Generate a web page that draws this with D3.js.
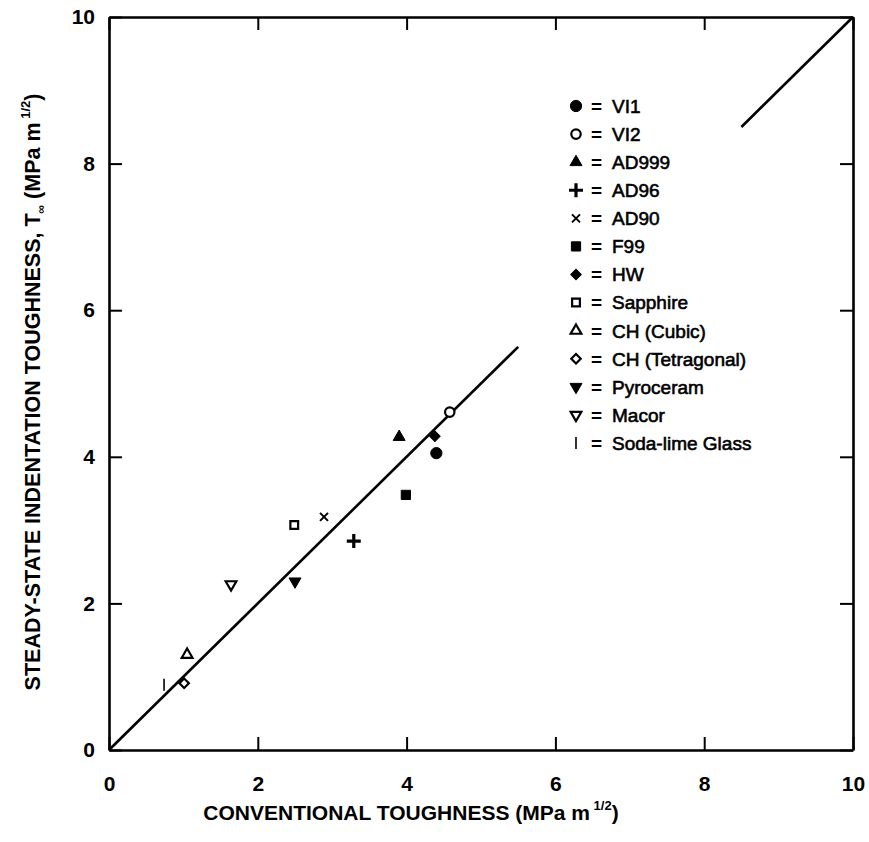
<!DOCTYPE html>
<html>
<head>
<meta charset="utf-8">
<script src="https://cdn.jsdelivr.net/npm/d3@7"></script>
<style>
  body { margin: 0; background: #fff; }
  svg text { fill: #000; }
</style>
</head>
<body>
<div id="chart"></div>
<script>
// chart size
var width = 869;
var height = 842;

// data (x = conventional, y = steady-state)
var materials = ["VI1", "VI2", "AD999", "AD96", "AD90", "F99", "HW", "Sapphire",
  "CH (Cubic)", "CH (Tetragonal)", "Pyroceram", "Macor", "Soda-lime Glass"];
var symbols = ["circleFill", "circleOpen", "triUpFill", "plus", "cross", "squareFill", "diamondFill",
  "squareOpen", "triUpOpen", "diamondOpen", "triDownFill", "triDownOpen", "bar"];
var conventional = [4.40, 4.58, 3.90, 3.29, 2.89, 3.99, 4.38, 2.49, 1.05, 1.01, 2.50, 1.64, 0.74];
var steadyState  = [4.05, 4.61, 4.27, 2.85, 3.18, 3.48, 4.28, 3.07, 1.30, 0.91, 2.30, 2.26, 0.89];

var tickValues = [0, 2, 4, 6, 8, 10];
// 1:1 line, drawn in two pieces as in the original figure
var lineSegments = [[[0, 0], [5.5, 5.5]], [[8.5, 8.5], [10, 10]]];

var svg = d3.select("#chart").append("svg")
  .attr("width", width)
  .attr("height", height);

var x = d3.scaleLinear().domain([0, 10]).range([109, 853]);
var y = d3.scaleLinear().domain([0, 10]).range([750, 17]);

var tickFont = "'Liberation Sans', Arial, sans-serif";

//axes, ticks all pointing inward
var axisB = svg.append("g").attr("transform", "translate(0," + y(0) + ")")
  .call(d3.axisBottom(x).tickValues(tickValues).tickSize(-13).tickSizeOuter(0).tickPadding(26).tickFormat(d3.format("d")));
var axisL = svg.append("g").attr("transform", "translate(" + x(0) + ",0)")
  .call(d3.axisLeft(y).tickValues(tickValues).tickSize(-13).tickSizeOuter(0).tickPadding(14).tickFormat(d3.format("d")));
var axisT = svg.append("g").attr("transform", "translate(0," + y(10) + ")")
  .call(d3.axisTop(x).tickValues(tickValues).tickSize(-13).tickSizeOuter(0).tickFormat(""));
var axisR = svg.append("g").attr("transform", "translate(" + x(10) + ",0)")
  .call(d3.axisRight(y).tickValues(tickValues).tickSize(-13).tickSizeOuter(0).tickFormat(""));

[axisB, axisL, axisT, axisR].forEach(function(g) {
  g.select(".domain").attr("stroke", "#000").attr("stroke-width", 2.6);
  g.selectAll(".tick line").attr("stroke", "#000").attr("stroke-width", 2);
  g.selectAll(".tick text")
    .style("font-family", tickFont)
    .style("font-size", "21px")
    .style("font-weight", "bold");
});

// 1:1 line
var line = d3.line().x(d => x(d[0])).y(d => y(d[1]));
svg.selectAll(".fit").data(lineSegments).enter().append("path")
  .attr("class", "fit")
  .attr("d", line)
  .attr("fill", "none")
  .attr("stroke", "#000")
  .attr("stroke-width", 2.6);

// marker drawing helper
function drawMarker(g, kind) {
  var filled = /Fill/.test(kind);
  var fill = filled ? "#000" : "#fff";
  var sw = filled ? 1 : 2.2;
  if (kind == "circleFill" || kind == "circleOpen") {
    g.append("path").attr("d", d3.symbol(d3.symbolCircle, filled ? 100 : 70)())
      .attr("fill", fill).attr("stroke", "#000").attr("stroke-width", sw);
  } else if (kind == "squareFill" || kind == "squareOpen") {
    g.append("path").attr("d", d3.symbol(d3.symbolSquare, filled ? 85 : 60)())
      .attr("fill", fill).attr("stroke", "#000").attr("stroke-width", sw);
  } else if (kind == "triUpFill" || kind == "triUpOpen") {
    g.append("path").attr("d", d3.symbol(d3.symbolTriangle, filled ? 62 : 50)())
      .attr("fill", fill).attr("stroke", "#000").attr("stroke-width", sw);
  } else if (kind == "triDownFill" || kind == "triDownOpen") {
    g.append("path").attr("d", d3.symbol(d3.symbolTriangle, filled ? 62 : 50)())
      .attr("transform", "rotate(180)")
      .attr("fill", fill).attr("stroke", "#000").attr("stroke-width", sw);
  } else if (kind == "diamondFill" || kind == "diamondOpen") {
    g.append("path").attr("d", d3.symbol(d3.symbolSquare, filled ? 55 : 45)())
      .attr("transform", "rotate(45)")
      .attr("fill", fill).attr("stroke", "#000").attr("stroke-width", sw);
  } else if (kind == "plus") {
    g.append("path").attr("d", "M-7,0H7M0,-7V7")
      .attr("stroke", "#000").attr("stroke-width", 3.2);
  } else if (kind == "cross") {
    g.append("path").attr("d", "M-4,-4L4,4M-4,4L4,-4")
      .attr("stroke", "#000").attr("stroke-width", 2);
  } else if (kind == "bar") {
    g.append("path").attr("d", "M0,-6V6")
      .attr("stroke", "#000").attr("stroke-width", 1.6);
  }
}

// data points
var points = materials.map(function(m, i) {
  return {name: m, symbol: symbols[i], x: conventional[i], y: steadyState[i]};
});

svg.selectAll(".pt").data(points).enter().append("g")
  .attr("class", "pt")
  .attr("transform", d => "translate(" + x(d.x) + "," + y(d.y) + ")")
  .each(function(d) { drawMarker(d3.select(this), d.symbol); });

// legend
var legendRow = d3.scalePoint().domain(materials).range([106, 443]);
var legend = svg.selectAll(".legend").data(points).enter().append("g")
  .attr("class", "legend")
  .attr("transform", d => "translate(576," + legendRow(d.name) + ")");
legend.each(function(d) { drawMarker(d3.select(this), d.symbol); });
var legendFont = {"font-family": "'Liberation Sans', Arial, sans-serif", "font-size": "19px"};
legend.append("text")
  .attr("x", 15)
  .attr("dy", "0.36em")
  .style("font-family", legendFont["font-family"])
  .style("font-size", legendFont["font-size"])
  .style("font-weight", "bold")
  .text("=");
legend.append("text")
  .attr("x", 36)
  .attr("dy", "0.36em")
  .style("font-family", legendFont["font-family"])
  .style("font-size", legendFont["font-size"])
  .style("stroke", "#000")
  .style("stroke-width", 0.6)
  .text(d => d.name);

// axis titles
var xTitle = svg.append("text")
  .attr("x", 411)
  .attr("y", 820)
  .attr("text-anchor", "middle")
  .style("font-family", "'Liberation Sans Narrow', 'Liberation Sans', sans-serif")
  .style("font-size", "21px")
  .style("font-weight", "bold");
xTitle.append("tspan").text("CONVENTIONAL TOUGHNESS (MPa m");
xTitle.append("tspan").attr("dy", -10).style("font-size", "13px").text(" 1/2");
xTitle.append("tspan").attr("dy", 10).text(")");

var yTitle = svg.append("text")
  .attr("transform", "translate(40,392) rotate(-90)")
  .attr("text-anchor", "middle")
  .style("font-family", "'Liberation Sans Narrow', 'Liberation Sans', sans-serif")
  .style("font-size", "21.5px")
  .style("font-weight", "bold");
yTitle.append("tspan").text("STEADY-STATE INDENTATION TOUGHNESS, T");
yTitle.append("tspan").attr("dy", 5).style("font-size", "12px").text("\u221e");
yTitle.append("tspan").attr("dy", -5).text(" (MPa m");
yTitle.append("tspan").attr("dy", -10).style("font-size", "13px").text(" 1/2");
yTitle.append("tspan").attr("dy", 10).text(")");
</script>
</body>
</html>
